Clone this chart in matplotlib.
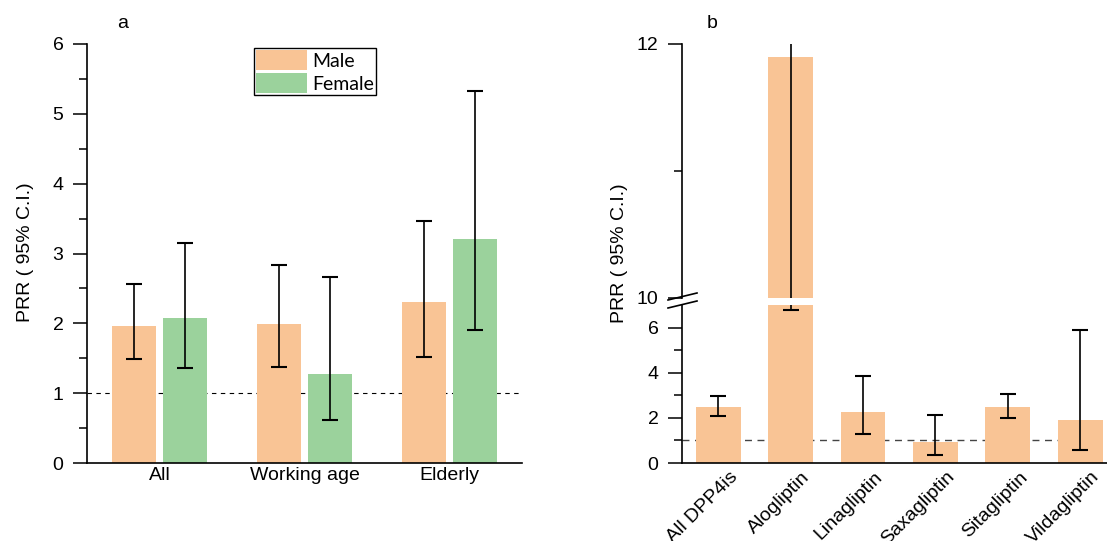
import matplotlib
matplotlib.use("Agg")
import matplotlib.pyplot as plt
import matplotlib.transforms as mtransforms
from matplotlib.lines import Line2D
import numpy as np

# panel a: PRR by sex and age group
groups = ["All", "Working age", "Elderly"]
male_prr = [1.96, 1.99, 2.31]
male_lo = [1.49, 1.38, 1.52]
male_hi = [2.56, 2.83, 3.47]
female_prr = [2.08, 1.28, 3.21]
female_lo = [1.36, 0.61, 1.91]
female_hi = [3.15, 2.67, 5.33]

# panel b: PRR by drug
drugs = ["All DPP4is", "Alogliptin", "Linagliptin", "Saxagliptin", "Sitagliptin", "Vildagliptin"]
drug_prr = [2.50, 11.90, 2.28, 0.92, 2.50, 1.91]
drug_lo = [2.07, 6.77, 1.29, 0.34, 2.01, 0.58]
drug_hi = [2.95, 13.1, 3.84, 2.13, 3.05, 5.88]

orange = "#F9C495"
green = "#9BD29C"

plt.rcParams["font.family"] = ["Liberation Sans", "DejaVu Sans"]
plt.rcParams["font.size"] = 14

W, H = 1107, 541
fig = plt.figure(figsize=(W / 100, H / 100), dpi=100)


def box(x0, y0, x1, y1):
    # pixel box (top-left origin) -> figure fraction rect
    return [x0 / W, 1 - y1 / H, (x1 - x0) / W, (y1 - y0) / H]


def err(v, lo, hi):
    v, lo, hi = np.array(v), np.array(lo), np.array(hi)
    return [v - lo, hi - v]


def style(ax):
    for s in ["top", "right"]:
        ax.spines[s].set_visible(False)
    for s in ["left", "bottom"]:
        ax.spines[s].set_linewidth(1.2)
    ax.tick_params(axis="y", which="major", length=10, width=1.1, pad=7)
    ax.tick_params(axis="y", which="minor", length=5.5, width=1.1)
    ax.tick_params(axis="x", length=0)


# ---- panel a ----
ax = fig.add_axes(box(87, 44, 522, 463))
x = np.arange(len(groups))
ax.axhline(1, color="black", lw=0.8, ls=(0, (4, 4)), zorder=0)
ax.bar(x - 0.175, male_prr, 0.3, color=orange, label="Male", zorder=1)
ax.bar(x + 0.175, female_prr, 0.3, color=green, label="Female", zorder=1)
ax.errorbar(x - 0.175, male_prr, yerr=err(male_prr, male_lo, male_hi), fmt="none",
            ecolor="black", elinewidth=1.2, capsize=5.5, capthick=1.5, zorder=2)
ax.errorbar(x + 0.175, female_prr, yerr=err(female_prr, female_lo, female_hi), fmt="none",
            ecolor="black", elinewidth=1.2, capsize=5.5, capthick=1.5, zorder=2)
ax.set_xlim(-0.5, 2.5)
ax.set_ylim(0, 6)
ax.set_yticks(range(7))
ax.set_yticks(np.arange(0.5, 6, 1), minor=True)
ax.set_xticks(x)
ax.set_xticklabels(groups)
style(ax)
ax.tick_params(axis="x", pad=3)
leg = ax.legend(loc="upper left", bbox_to_anchor=(254 / W, 1 - 48 / H), bbox_transform=fig.transFigure,
                prop={"family": "Lato", "size": 14}, fancybox=False, edgecolor="black", framealpha=1,
                handlelength=2.6, handleheight=1.2, labelspacing=0.15, handletextpad=0.25,
                borderpad=0.12, borderaxespad=0)
leg.get_frame().set_linewidth(1.0)
fig.text(26 / W, 1 - 252 / H, "PRR ( 95% C.I.)", rotation=90, ha="center", va="center")
fig.text(123 / W, 1 - 23 / H, "a", ha="center", va="center", fontsize=14)

# ---- panel b (broken axis) ----
axl = fig.add_axes(box(682, 305, 1107, 463))
axu = fig.add_axes(box(682, 44, 1107, 298))
xb = np.arange(len(drugs))
for a in (axl, axu):
    a.bar(xb, drug_prr, 0.62, color=orange, zorder=1)
    a.errorbar(xb, drug_prr, yerr=err(drug_prr, drug_lo, drug_hi), fmt="none",
               ecolor="black", elinewidth=1.2, capsize=6, capthick=1.5, zorder=2)
    a.set_xlim(-0.5, 5.37)
    style(a)
axl.axhline(1, color="#444444", lw=1.0, ls=(0, (5, 4)), zorder=0)
axl.set_ylim(0, 7)
axl.set_yticks([0, 2, 4, 6])
axl.set_yticks([1, 3, 5], minor=True)
axl.set_xticks(xb)
axl.set_xticklabels(drugs, rotation=45, ha="right", va="top", rotation_mode="anchor")
axl.tick_params(axis="x", pad=4)
shift = mtransforms.ScaledTranslation(0.11, 0, fig.dpi_scale_trans)
for lbl in axl.get_xticklabels():
    lbl.set_transform(lbl.get_transform() + shift)

axu.set_ylim(10, 12)
axu.set_yticks([10, 12])
axu.set_yticks([11], minor=True)
axu.spines["bottom"].set_visible(False)
axu.set_xticks([])

# break marks
for dy in (0, 8):
    fig.add_artist(Line2D([668 / W, 697 / W], [1 - (300 + dy) / H, 1 - (293 + dy) / H],
                          transform=fig.transFigure, color="black", lw=1.2))

fig.text(620 / W, 1 - 253 / H, "PRR ( 95% C.I.)", rotation=90, ha="center", va="center")
fig.text(712 / W, 1 - 23 / H, "b", ha="center", va="center", fontsize=14)

fig.savefig("out.png", dpi=100)
